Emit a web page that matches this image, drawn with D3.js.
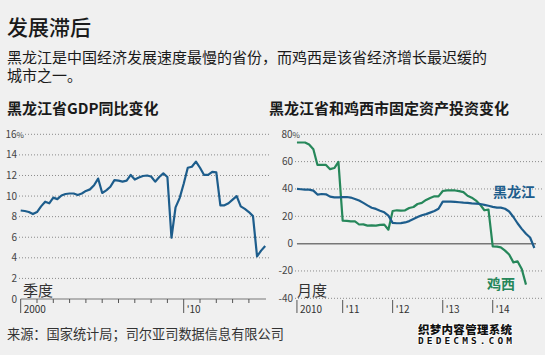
<!DOCTYPE html>
<html><head><meta charset="utf-8">
<script src="https://cdn.jsdelivr.net/npm/d3@7"></script>
<style>
body{margin:0;background:#f0f0f0}
svg{display:block}
text{font-family:"Noto Sans CJK SC","Noto Sans",sans-serif}
</style>
</head><body>
<svg id="c" width="545" height="355"></svg>
<script>
// ---------- data ----------
// Heilongjiang GDP growth, quarterly from 2000 Q1
const gdpStartYear = 2000;
const gdpGrowth = [8.6, 8.55, 8.45, 8.25, 8.45, 9.0, 9.45, 9.3, 9.85, 9.7,
  10.05, 10.2, 10.25, 10.25, 10.1, 10.25, 10.5, 10.65, 11.05, 11.7,
  10.3, 10.55, 10.9, 11.55, 11.5, 11.4, 11.5, 12.05, 11.6, 11.8,
  11.95, 12.0, 11.9, 11.4, 11.85, 12.2, 11.85, 5.95, 8.9, 9.8,
  11.2, 12.75, 12.85, 13.35, 12.75, 12.05, 12.05, 12.35, 12.3, 9.1,
  9.1, 9.3, 9.65, 10.0, 9.0, 8.75, 8.45, 8.05, 4.15, 4.7, 5.15];
const gdpYTicks = [0, 2, 4, 6, 8, 10, 12, 14, 16];
const gdpXTickYears = [2000,2001,2002,2003,2004,2005,2006,2007,2008,2009,2010,2011,2012,2013,2014];
const gdpXLabels = {2000: "2000", 2010: "'10"};

// Fixed-asset investment growth, monthly from Feb 2010
const faiStart = [2010, 1]; // year, month index (Feb)
const heilongjiangFAI = [40.0, 39.8, 39.5, 39.5, 38.8, 35.9, 36.3, 36.1, 34.4, 33.9,
  33.9, 34.1, 34.1, 33.7, 32.7, 31.5, 29.8, 28.0, 26.3, 25.4,
  24.1, 22.9, 20.5, 15.2, 14.9, 15.0, 15.5, 16.5, 18.0, 19.5,
  20.8, 21.6, 22.7, 23.9, 25.5, 30.7, 30.7, 30.7, 30.5, 30.3,
  30.0, 29.8, 29.5, 29.3, 29.0, 28.4, 27.7, 26.9, 26.4, 26.3,
  25.5, 23.5, 19.5, 14.9, 10.8, 7.2, 4.5, -3.2];
const jixiFAI = [74, 74, 74, 72.5, 69, 57.6, 57.6, 57.6, 54.5, 55.3,
  59.8, 16.8, 16.6, 16.3, 16.3, 14.0, 14.1, 13.2, 13.4, 13.2,
  13.7, 13.9, 10.2, 23.9, 24.4, 24.1, 24.4, 26.1, 26.8, 29.0,
  29.8, 32.0, 33.4, 34.6, 34.6, 38.5, 39.0, 39.0, 38.9, 38.4,
  37.7, 35.0, 33.6, 31.5, 28.5, 24.4, 24.9, -2.0, -2.2, -2.7,
  -5.1, -8.0, -13.7, -12.9, -18.5, -30.0];
const faiYTicks = [-40, -20, 0, 20, 40, 60, 80];
const faiXTicks = [[2010, 1, "2010"], [2011, 0, "'11"], [2012, 0, "'12"], [2013, 0, "'13"], [2014, 0, "'14"]];

const texts = {
  title: "发展滞后",
  sub: ["黑龙江是中国经济发展速度最慢的省份，而鸡西是该省经济增长最迟缓的", "城市之一。"],
  leftTitle: "黑龙江省GDP同比变化",
  rightTitle: "黑龙江省和鸡西市固定资产投资变化",
  leftUnit: "季度",
  rightUnit: "月度",
  hlj: "黑龙江",
  jixi: "鸡西",
  source: "来源：国家统计局；司尔亚司数据信息有限公司",
  mark: ["织梦内容管理系统", "DEDECMS.COM"]
};

// ---------- drawing ----------
const svg = d3.select("#c");
const BLUE = "#1d5d8c", GREEN = "#26875a";
svg.append("rect").attr("width", 545).attr("height", 355).attr("fill", "#f0f0f0");

svg.append("text").attr("x", 7).attr("y", 35).attr("font-size", 21).attr("font-weight", 500)
  .attr("fill", "#1a1a1a").text(texts.title);
const sub = svg.append("text").attr("font-size", 15).attr("fill", "#1a1a1a");
texts.sub.forEach((s, i) => sub.append("tspan").attr("x", 7).attr("y", 63 + i * 18).text(s));
svg.append("text").attr("x", 7).attr("y", 114).attr("font-size", 15).attr("font-weight", 700)
  .attr("fill", "#1a1a1a").text(texts.leftTitle);
svg.append("text").attr("x", 269).attr("y", 114).attr("font-size", 15).attr("font-weight", 700)
  .attr("fill", "#1a1a1a").text(texts.rightTitle);

// ----- left chart -----
const xL = d3.scaleLinear().domain([2000, 2015]).range([20.7, 265.2]);
const yL = d3.scaleLinear().domain([0, 16]).range([299, 134.3]);
const gL = svg.append("g");

gdpYTicks.forEach(v => {
  if (v > 0) {
    gL.append("line").attr("x1", v === 16 ? 25 : 19).attr("x2", 269)
      .attr("y1", yL(v)).attr("y2", yL(v))
      .attr("stroke", "#8a8a8a").attr("stroke-width", 1).attr("stroke-dasharray", "1,2");
  }
  const t = gL.append("text").attr("y", yL(v)).attr("dy", "0.35em")
    .attr("font-size", 10).attr("fill", "#444");
  if (v === 16) {
    t.attr("x", 5.5).text(v).append("tspan").attr("font-size", 8).text("%");
  } else {
    t.attr("x", 17).attr("text-anchor", "end").text(v);
  }
});
gL.append("line").attr("x1", xL(2000)).attr("x2", 266).attr("y1", yL(0)).attr("y2", yL(0))
  .attr("stroke", "#777").attr("stroke-width", 1.2);
gdpXTickYears.forEach(yr => {
  const major = gdpXLabels[yr] !== undefined;
  gL.append("line").attr("x1", xL(yr)).attr("x2", xL(yr))
    .attr("y1", yL(0)).attr("y2", major ? 313 : 303)
    .attr("stroke", "#555").attr("stroke-width", 1);
  if (major) {
    gL.append("text").attr("x", xL(yr) + 3).attr("y", 313).attr("font-size", 10)
      .attr("fill", "#333").text(gdpXLabels[yr]);
  }
});
gL.append("text").attr("x", 23).attr("y", 296).attr("font-size", 15).attr("fill", "#333").text(texts.leftUnit);

const lineL = d3.line().x((d, i) => xL(gdpStartYear + i / 4)).y(d => yL(d));
gL.append("path").datum(gdpGrowth).attr("d", lineL).attr("fill", "none")
  .attr("stroke", BLUE).attr("stroke-width", 2.2).attr("stroke-linejoin", "round");

// ----- right chart -----
const xR = d3.scaleTime().domain([new Date(2010, 0, 1), new Date(2015, 0, 1)]).range([292.7, 542.7]);
const yR = d3.scaleLinear().domain([-40, 80]).range([298.3, 134.3]);
const gR = svg.append("g");
const monthDate = i => new Date(faiStart[0], faiStart[1] + i, 1);

faiYTicks.forEach(v => {
  if (v !== 0) {
    gR.append("line").attr("x1", v === 80 ? 301 : 295).attr("x2", 544)
      .attr("y1", yR(v)).attr("y2", yR(v))
      .attr("stroke", "#8a8a8a").attr("stroke-width", 1).attr("stroke-dasharray", "1,2");
  }
  const t = gR.append("text").attr("y", yR(v)).attr("dy", "0.35em")
    .attr("font-size", 10).attr("fill", "#444");
  if (v === 80) {
    t.attr("x", 281.5).text(v).append("tspan").attr("font-size", 8).text("%");
  } else {
    t.attr("x", 293).attr("text-anchor", "end").text(v);
  }
});
gR.append("line").attr("x1", xR(monthDate(0))).attr("x2", 536).attr("y1", yR(0)).attr("y2", yR(0))
  .attr("stroke", "#777").attr("stroke-width", 1.5);
faiXTicks.forEach(([yr, m, lab]) => {
  const x = xR(new Date(yr, m, 1));
  gR.append("line").attr("x1", x).attr("x2", x).attr("y1", 300).attr("y2", 313)
    .attr("stroke", "#555").attr("stroke-width", 1);
  gR.append("text").attr("x", x + 3).attr("y", 313).attr("font-size", 10).attr("fill", "#333").text(lab);
});
gR.append("text").attr("x", 297).attr("y", 296).attr("font-size", 15).attr("fill", "#333").text(texts.rightUnit);

const lineR = d3.line().x((d, i) => xR(monthDate(i))).y(d => yR(d));
gR.append("path").datum(jixiFAI).attr("d", lineR).attr("fill", "none")
  .attr("stroke", GREEN).attr("stroke-width", 2.2).attr("stroke-linejoin", "round");
gR.append("path").datum(heilongjiangFAI).attr("d", lineR).attr("fill", "none")
  .attr("stroke", BLUE).attr("stroke-width", 2.2).attr("stroke-linejoin", "round");

gR.append("text").attr("x", 493).attr("y", 197).attr("font-size", 14).attr("font-weight", 700)
  .attr("fill", BLUE).text(texts.hlj);
gR.append("text").attr("x", 487).attr("y", 289).attr("font-size", 14).attr("font-weight", 700)
  .attr("fill", GREEN).text(texts.jixi);

// ----- source -----
svg.append("text").attr("x", 7).attr("y", 339).attr("font-size", 13.2).attr("fill", "#333").text(texts.source);
// watermark
const wm = svg.append("text").attr("font-weight", 900)
  .attr("fill", "#111").attr("stroke", "#fff").attr("stroke-width", 1.5).attr("paint-order", "stroke");
wm.append("tspan").attr("x", 418).attr("y", 334).attr("font-size", 11.5)
  .attr("textLength", 94).text(texts.mark[0]);
wm.append("tspan").attr("x", 418).attr("y", 344).attr("font-size", 9.5)
  .attr("font-family", "DejaVu Sans Mono, monospace").attr("textLength", 94).text(texts.mark[1]);
</script>
</body></html>
